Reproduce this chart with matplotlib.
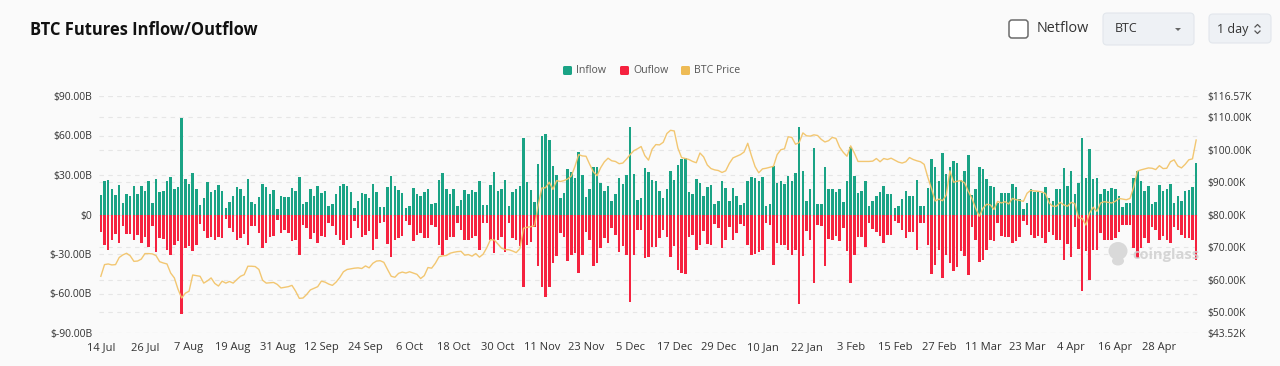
import matplotlib
matplotlib.use("Agg")
import matplotlib.pyplot as plt
from matplotlib.patches import FancyBboxPatch, Ellipse
from matplotlib.lines import Line2D
import numpy as np

# ---------------- data (daily, 14 Jul 2024 -> 8 May 2025) ----------------
inflow = [
    14.7, 25.3, 26.1, 19.0, 14.7, 22.3, 8.9, 15.4, 13.9, 21.5,
    15.2, 21.8, 18.0, 25.3, 8.9, 27.3, 17.2, 17.7, 25.8, 28.6,
    19.0, 20.8, 73.0, 26.6, 23.5, 31.6, 19.5, 7.3, 12.7, 24.6,
    17.0, 18.5, 22.5, 17.7, 4.8, 9.6, 13.9, 20.8, 19.2, 14.4,
    27.3, 9.4, 8.1, 13.4, 22.8, 21.0, 15.9, 18.5, 4.3, 13.7,
    13.4, 13.4, 20.3, 18.2, 28.4, 7.6, 9.6, 19.7, 14.4, 21.3,
    16.7, 18.2, 6.6, 8.1, 15.7, 21.8, 23.5, 21.5, 17.2, 5.3,
    10.6, 16.7, 15.9, 12.9, 23.0, 17.0, 5.8, 5.8, 20.8, 29.1,
    21.3, 18.7, 16.5, 4.8, 6.6, 20.0, 15.2, 13.9, 17.2, 19.0,
    7.6, 9.1, 26.1, 31.6, 19.7, 15.7, 19.0, 6.6, 11.1, 18.5,
    15.9, 18.7, 17.0, 25.3, 7.1, 7.1, 22.3, 32.2, 17.7, 19.5,
    26.1, 6.1, 17.0, 19.0, 21.3, 58.2, 24.6, 18.5, 9.6, 38.0,
    59.5, 60.8, 56.5, 36.7, 29.9, 12.9, 16.5, 34.9, 32.2, 27.8,
    47.1, 30.1, 13.2, 19.5, 35.9, 35.7, 24.1, 17.7, 21.3, 10.1,
    15.7, 27.8, 23.0, 30.1, 66.3, 30.9, 11.1, 12.4, 35.4, 32.2,
    26.3, 25.3, 18.0, 12.2, 19.5, 33.4, 26.1, 37.5, 42.3, 42.8,
    17.2, 15.9, 26.8, 23.8, 14.4, 20.8, 22.3, 7.8, 9.9, 25.1,
    20.5, 10.1, 20.5, 13.9, 7.3, 8.4, 25.1, 28.6, 28.1, 25.8,
    28.4, 6.3, 7.8, 37.2, 24.3, 25.1, 22.8, 29.4, 25.1, 31.6,
    66.8, 32.9, 10.1, 19.7, 50.6, 7.6, 7.6, 35.9, 19.5, 19.5,
    17.0, 19.7, 9.6, 25.3, 51.1, 29.1, 16.5, 18.0, 25.1, 6.8,
    10.6, 14.4, 17.0, 21.8, 15.4, 15.9, 5.1, 6.3, 11.4, 17.7,
    13.9, 14.4, 26.1, 6.3, 6.3, 20.5, 42.5, 36.2, 25.1, 46.8,
    30.4, 36.2, 41.0, 39.2, 26.3, 32.9, 45.3, 14.7, 19.0, 35.9,
    34.2, 27.3, 21.3, 21.0, 8.4, 16.5, 16.5, 16.7, 23.5, 21.0,
    11.9, 3.8, 8.9, 19.7, 17.2, 17.2, 16.5, 21.0, 12.2, 10.4,
    19.5, 19.5, 35.2, 22.0, 32.7, 15.4, 24.1, 58.2, 28.1, 49.9,
    26.8, 27.8, 15.4, 19.7, 18.2, 20.0, 19.7, 14.2, 5.6, 8.4,
    8.6, 28.1, 32.7, 25.6, 17.5, 21.8, 8.1, 9.4, 22.5, 17.5,
    19.5, 23.3, 8.9, 13.7, 10.1, 18.0, 18.5, 20.8, 39.2,
]

outflow = [
    13.4, 23.3, 26.6, 19.7, 14.7, 22.0, 8.9, 14.9, 14.9, 19.7,
    15.4, 22.0, 17.2, 24.6, 8.9, 28.6, 17.7, 18.5, 26.6, 30.4,
    22.8, 20.3, 75.5, 25.8, 24.1, 27.8, 22.8, 7.1, 12.2, 17.7,
    17.0, 19.5, 17.2, 17.7, 3.3, 10.4, 13.2, 19.0, 17.7, 14.7,
    23.5, 8.9, 8.4, 13.9, 25.3, 22.0, 17.2, 16.5, 3.8, 13.9,
    11.9, 13.9, 20.3, 19.0, 30.9, 7.6, 10.6, 18.5, 14.4, 22.0,
    16.5, 17.0, 6.3, 8.9, 15.9, 19.5, 22.8, 19.0, 17.7, 5.1,
    10.1, 17.0, 15.9, 12.7, 27.1, 18.5, 6.3, 5.8, 22.3, 32.4,
    19.5, 17.7, 16.5, 4.6, 7.8, 20.3, 15.2, 14.4, 18.0, 17.7,
    7.6, 9.4, 23.3, 31.1, 19.0, 17.0, 17.2, 6.3, 11.4, 19.0,
    19.5, 17.7, 16.5, 27.1, 6.3, 6.3, 19.5, 29.1, 19.5, 17.0,
    28.4, 6.3, 17.7, 19.0, 24.1, 55.2, 22.8, 21.0, 9.4, 39.2,
    54.9, 62.5, 55.2, 36.7, 31.6, 13.9, 17.0, 35.4, 30.4, 29.1,
    44.3, 30.4, 13.4, 19.5, 39.2, 37.2, 25.3, 17.7, 21.5, 10.1,
    15.2, 28.6, 24.1, 30.9, 66.6, 30.9, 11.4, 11.9, 33.4, 32.2,
    24.6, 24.6, 17.7, 11.9, 17.0, 32.2, 24.1, 42.3, 44.8, 45.1,
    17.0, 15.9, 27.1, 23.0, 12.7, 22.3, 22.8, 7.1, 10.6, 25.3,
    19.0, 9.4, 19.0, 13.9, 7.1, 8.9, 23.5, 30.9, 29.9, 28.4,
    26.6, 6.3, 7.6, 38.7, 22.0, 23.3, 23.5, 26.6, 30.9, 27.1,
    67.8, 31.6, 12.7, 19.0, 51.9, 7.6, 8.9, 39.2, 18.5, 19.0,
    16.5, 20.3, 10.6, 27.8, 51.9, 30.4, 17.0, 17.0, 24.6, 6.3,
    10.9, 13.4, 16.7, 21.5, 15.2, 15.7, 5.1, 6.3, 11.4, 17.7,
    13.2, 13.4, 26.8, 6.3, 6.3, 22.8, 45.1, 38.5, 26.6, 48.1,
    30.9, 36.7, 43.0, 40.0, 28.1, 31.6, 46.1, 9.4, 19.0, 36.2,
    34.2, 27.3, 19.5, 20.3, 6.3, 16.7, 17.0, 17.0, 22.0, 20.3,
    17.0, 4.6, 8.1, 15.9, 17.7, 16.5, 18.2, 21.5, 13.2, 15.9,
    19.0, 19.0, 34.2, 22.3, 32.4, 9.6, 26.1, 58.2, 27.8, 49.4,
    27.3, 26.6, 13.9, 19.0, 19.5, 19.7, 17.7, 13.2, 7.6, 8.1,
    7.6, 25.3, 32.9, 25.3, 17.7, 22.0, 9.4, 11.4, 19.0, 16.5,
    19.0, 21.5, 9.4, 11.4, 15.9, 17.7, 17.7, 19.0, 34.9,
]

price_k = [
    61.0, 64.6, 64.8, 64.5, 64.6, 66.8, 67.6, 68.1, 67.3, 65.6,
    65.7, 66.3, 68.0, 68.0, 67.9, 67.4, 65.5, 65.1, 64.8, 62.0,
    60.5, 57.0, 54.3, 55.8, 56.4, 61.4, 61.2, 61.0, 58.9, 59.6,
    60.5, 58.8, 58.0, 59.5, 58.9, 59.4, 58.9, 60.0, 61.0, 61.5,
    64.1, 64.1, 64.0, 63.1, 59.8, 58.9, 59.0, 59.1, 58.5, 57.4,
    57.6, 57.8, 58.2, 56.4, 54.2, 54.3, 55.4, 56.8, 57.3, 57.8,
    59.5, 59.2, 58.6, 58.2, 59.2, 60.6, 62.4, 63.1, 63.3, 63.5,
    63.6, 63.4, 64.2, 63.6, 65.0, 65.7, 65.8, 65.3, 63.1, 61.0,
    60.7, 61.9, 62.3, 62.0, 62.4, 62.0, 61.6, 60.3, 61.2, 63.7,
    63.5, 65.0, 67.0, 67.3, 67.4, 68.1, 68.4, 68.6, 68.7, 67.5,
    67.7, 67.2, 68.0, 66.9, 67.8, 69.8, 72.3, 72.2, 71.0, 69.7,
    69.2, 69.2, 68.8, 68.3, 69.5, 75.8, 76.1, 76.3, 76.6, 83.0,
    88.2, 88.3, 90.0, 87.8, 90.5, 90.2, 90.5, 91.0, 91.9, 94.9,
    98.5, 98.1, 98.0, 95.5, 93.2, 92.0, 94.5, 96.3, 97.4, 96.6,
    96.4, 95.7, 95.9, 97.1, 98.5, 99.7, 100.3, 101.0, 98.2, 96.8,
    100.2, 101.6, 101.5, 102.3, 105.0, 106.0, 105.8, 100.5, 97.6, 97.3,
    97.0, 96.4, 96.0, 99.0, 97.8, 95.3, 94.2, 93.8, 93.6, 93.0,
    93.5, 95.8, 97.5, 98.0, 98.5, 99.3, 102.0, 98.2, 94.8, 92.9,
    94.1, 94.3, 94.6, 94.9, 98.5, 100.0, 100.3, 104.0, 103.8, 101.7,
    102.2, 105.2, 104.3, 104.2, 104.6, 104.4, 103.2, 102.4, 102.8, 103.8,
    103.5, 100.8, 99.2, 98.0, 101.2, 99.0, 96.4, 96.4, 96.4, 96.4,
    96.5, 97.3, 96.3, 97.3, 97.0, 97.4, 96.8, 96.2, 95.9, 96.3,
    97.6, 97.0, 96.6, 96.3, 95.5, 91.5, 88.0, 84.2, 84.8, 84.3,
    86.0, 93.5, 90.0, 90.3, 90.5, 89.8, 87.2, 85.0, 82.0, 79.5,
    82.0, 83.2, 83.0, 81.6, 84.1, 83.6, 84.0, 83.3, 85.0, 84.6,
    84.4, 84.1, 86.6, 87.5, 87.3, 87.2, 87.0, 86.5, 83.6, 82.6,
    82.6, 83.8, 83.0, 82.6, 83.8, 83.4, 79.0, 78.8, 76.8, 80.5,
    82.3, 81.0, 83.6, 84.0, 83.8, 83.6, 84.1, 85.0, 84.8, 84.6,
    85.0, 88.5, 93.4, 93.8, 94.1, 94.4, 94.3, 93.9, 95.1, 94.2,
    94.3, 96.3, 96.9, 95.0, 94.4, 95.5, 96.9, 97.2, 103.0,
]

x_tick_labels = ["14 Jul", "26 Jul", "7 Aug", "19 Aug", "31 Aug", "12 Sep",
                 "24 Sep", "6 Oct", "18 Oct", "30 Oct", "11 Nov", "23 Nov",
                 "5 Dec", "17 Dec", "29 Dec", "10 Jan", "22 Jan", "3 Feb",
                 "15 Feb", "27 Feb", "11 Mar", "23 Mar", "4 Apr", "16 Apr",
                 "28 Apr"]
x_tick_step = 12

left_ticks = [-90, -60, -30, 0, 30, 60, 90]
left_tick_labels = ["$-90.00B", "$-60.00B", "$-30.00B", "$0",
                    "$30.00B", "$60.00B", "$90.00B"]
right_ticks = [43.52, 50, 60, 70, 80, 90, 100, 110, 116.57]
right_tick_labels = ["$43.52K", "$50.00K", "$60.00K", "$70.00K", "$80.00K",
                     "$90.00K", "$100.00K", "$110.00K", "$116.57K"]

legend_labels = ["Inflow", "Ouflow", "BTC Price"]

# ---------------- style ----------------
BG = "#fafafa"
GREEN = "#1aa385"
RED = "#f5223f"
GOLD = "#f2c46a"
GOLD_LEG = "#eebb55"
GRID = "#e6e6e6"
TXT = "#333333"
FONT = "Open Sans"

plt.rcParams["font.family"] = [FONT, "DejaVu Sans"]

W, H = 1280, 366
fig = plt.figure(figsize=(W / 100, H / 100), dpi=100, facecolor=BG)


def fx(px):
    return px / W


def fy(py):
    return 1 - py / H


L, R, T, B = 99, 1198, 96, 333
rect = [fx(L), fy(B), fx(R) - fx(L), fy(T) - fy(B)]

# grid for the right axis (drawn behind everything)
axg = fig.add_axes(rect, facecolor=BG)
axg.set_ylim(right_ticks[0], right_ticks[-1])
axg.set_yticks(right_ticks)
axg.yaxis.grid(True, color=GRID, lw=0.8, ls=(0, (4, 4)))
axg.set_xticks([])
axg.tick_params(left=False, right=False, labelleft=False)
for s in axg.spines.values():
    s.set_visible(False)

# watermark (behind the bars)
fig.add_artist(Ellipse((fx(1118), fy(251)), 19 / W, 18 / H,
                       transform=fig.transFigure, fc="#d9d9d9", ec="none",
                       zorder=0.5))
fig.add_artist(Ellipse((fx(1118), fy(261)), 12 / W, 9 / H,
                       transform=fig.transFigure, fc="#d9d9d9", ec="none",
                       zorder=0.5))

# bars
ax = fig.add_axes(rect)
ax.patch.set_visible(False)
n = len(inflow)
xs = np.arange(n)
ax.bar(xs, inflow, width=0.68, color=GREEN, linewidth=0, zorder=3)
ax.bar(xs, [-v for v in outflow], width=0.68, color=RED, linewidth=0, zorder=3)
ax.set_xlim(-0.5, n - 0.5)
ax.set_ylim(left_ticks[0], left_ticks[-1])
ax.set_yticks(left_ticks)
ax.set_yticklabels(left_tick_labels)
ax.yaxis.grid(True, color=GRID, lw=0.8, ls=(0, (4, 4)))
ax.set_axisbelow(True)
tick_pos = list(range(0, n, x_tick_step))[:len(x_tick_labels)]
ax.set_xticks(tick_pos)
ax.set_xticklabels(x_tick_labels)
ax.tick_params(axis="x", length=0, pad=6.5, labelsize=8, labelcolor=TXT)
ax.tick_params(axis="y", length=0, pad=5, labelsize=7.5, labelcolor=TXT)
for s in ax.spines.values():
    s.set_visible(False)

# price line
ax2 = fig.add_axes(rect)
ax2.patch.set_visible(False)
ax2.plot(xs, price_k, color=GOLD, lw=1.0, alpha=0.95, solid_joinstyle="round")
ax2.set_xlim(-0.5, n - 0.5)
ax2.set_ylim(right_ticks[0], right_ticks[-1])
ax2.yaxis.tick_right()
ax2.set_yticks(right_ticks)
ax2.set_yticklabels(right_tick_labels)
ax2.set_xticks([])
ax2.tick_params(axis="y", length=0, pad=7, labelsize=7.4, labelcolor=TXT)
for s in ax2.spines.values():
    s.set_visible(False)

# watermark text
fig.text(fx(1132), fy(255), "coinglass", fontsize=10.6, fontweight="bold",
         color="#cfcfcf", alpha=0.85, va="center", ha="left")

# ---------------- title & controls ----------------
fig.text(fx(30), fy(30), "BTC Futures Inflow/Outflow", fontsize=11.9,
         fontweight="bold", color="#111111", va="center", ha="left")


def rbox(x0, y0, x1, y1, fc, ec, lw=0.8, r=4):
    p = FancyBboxPatch((fx(x0), fy(y1)), fx(x1) - fx(x0), fy(y0) - fy(y1),
                       boxstyle="round,pad=0,rounding_size=%f" % (r / W),
                       transform=fig.transFigure, fc=fc, ec=ec, lw=lw,
                       mutation_aspect=W / H)
    fig.add_artist(p)


rbox(1009, 20, 1028, 38, "#ffffff", "#6b6b6b", lw=1.1, r=3)
fig.text(fx(1037), fy(29), "Netflow", fontsize=10.4, color=TXT,
         va="center", ha="left")
rbox(1103, 13, 1194, 45, "#eef1f5", "#e2e6ec", lw=0.8, r=4)
fig.text(fx(1115), fy(29), "BTC", fontsize=9, color=TXT, va="center", ha="left")
fig.add_artist(plt.Polygon([[fx(1175), fy(28)], [fx(1181), fy(28)],
                            [fx(1178), fy(31)]], closed=True,
                           transform=fig.transFigure, fc="#666666", ec="none"))
rbox(1209, 14, 1271, 43, "#eef1f5", "#e2e6ec", lw=0.8, r=4)
fig.text(fx(1217), fy(29), "1 day", fontsize=9, color=TXT, va="center", ha="left")
fig.add_artist(Line2D([fx(1255), fx(1257.5), fx(1260)], [fy(27), fy(24.5), fy(27)],
                      transform=fig.transFigure, color="#555555", lw=0.9))
fig.add_artist(Line2D([fx(1255), fx(1257.5), fx(1260)], [fy(31), fy(33.5), fy(31)],
                      transform=fig.transFigure, color="#555555", lw=0.9))

# ---------------- legend ----------------
leg_items = [(563, legend_labels[0], GREEN), (620, legend_labels[1], RED),
             (681, legend_labels[2], GOLD_LEG)]
for x0, lab, col in leg_items:
    rbox(x0, 66, x0 + 9, 75, col, "none", lw=0, r=1.5)
    fig.text(fx(x0 + 13), fy(70.5), lab, fontsize=7.6, color="#555555",
             va="center", ha="left")

fig.savefig("out.png", dpi=100, facecolor=BG)
